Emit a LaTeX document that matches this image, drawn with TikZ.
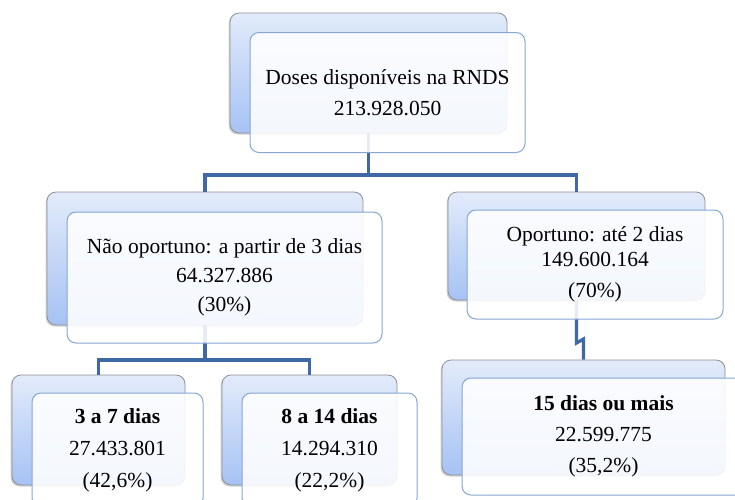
\documentclass[tikz,border=0pt]{standalone}
\usepackage{fontspec}
\setmainfont{Liberation Serif}
\usetikzlibrary{shadows}

\definecolor{cardtop}{HTML}{E2EBFA}
\definecolor{cardbottom}{HTML}{A6C2F4}
\definecolor{cardedge}{HTML}{8C8F96}
\definecolor{frontedge}{HTML}{86A6D6}
\definecolor{linkblue}{HTML}{3E68A6}

\tikzset{
  backcard/.style={draw=cardedge, rounded corners=9pt, top color=cardtop,
    bottom color=cardbottom, line width=0.8pt,
    drop shadow={shadow xshift=-1.5pt, shadow yshift=-1.5pt, opacity=0.35},
    inner sep=0pt},
  frontcard/.style={draw=frontedge, rounded corners=9pt, fill=white,
    fill opacity=0.88, text opacity=1, line width=1pt, align=center,
    inner sep=0pt, font=\fontsize{21.5}{29}\selectfont},
  link/.style={draw=linkblue, line width=3.2pt}
}

\begin{document}
\begin{tikzpicture}[x=1pt,y=-1pt]
  \useasboundingbox (0,0) rectangle (735,499);

  % back cards
  \node[backcard, minimum width=277pt, minimum height=120pt] (rootback) at (368.5,73) {};
  \node[backcard, minimum width=316pt, minimum height=133pt] (noback) at (205,258.5) {};
  \node[backcard, minimum width=257pt, minimum height=108pt] (okback) at (576.5,246) {};
  \node[backcard, minimum width=173pt, minimum height=110pt] (sevenback) at (98.5,430) {};
  \node[backcard, minimum width=175pt, minimum height=110pt] (fourteenback) at (309.5,430) {};
  \node[backcard, minimum width=283pt, minimum height=115pt] (fifteenback) at (583.5,417.5) {};

  % connectors
  \coordinate (busroot) at (0,175);
  \coordinate (busno) at (0,360);
  \coordinate (busok) at (0,343);
  \draw[link] (rootback.south) -- (rootback.south |- busroot) -| (noback.north);
  \draw[link] (rootback.south |- busroot) -| (okback.north);
  \draw[link] (noback.south) -- (noback.south |- busno) -| (sevenback.north);
  \draw[link] (noback.south |- busno) -| (fourteenback.north);
  \draw[link] (okback.south) -- (okback.south |- busok) -- ([yshift=4pt]fifteenback.north |- busok) -- (fifteenback.north);

  % front cards
  \node[frontcard, minimum width=275pt, minimum height=120pt] (root) at (387.5,92.5)
    {Doses disponíveis na RNDS\\[2pt] 213.928.050};
  \node[frontcard, minimum width=315pt, minimum height=131pt] (notimely) at (224.5,277.5)
    {\raisebox{6pt}{\parbox{300pt}{\centering Não oportuno: a partir de 3 dias\\ 64.327.886\\ (30\%)}}};
  \node[frontcard, minimum width=256pt, minimum height=109pt] (timely) at (595,264.5)
    {Oportuno: até 2 dias\\[-4pt] 149.600.164\\[2pt] (70\%)};
  \node[frontcard, minimum width=171pt, minimum height=114pt] (seven) at (117.5,450)
    {\textbf{3 a 7 dias}\\[3pt] 27.433.801\\[3pt] (42,6\%)};
  \node[frontcard, minimum width=175pt, minimum height=114pt] (fourteen) at (329.5,450)
    {\textbf{8 a 14 dias}\\[3pt] 14.294.310\\[3pt] (22,2\%)};
  \node[frontcard, minimum width=283pt, minimum height=117pt] (fifteen) at (603.5,436.5)
    {\raisebox{3pt}{\parbox{270pt}{\centering\textbf{15 dias ou mais}\\[2pt] 22.599.775\\[2pt] (35,2\%)}}};
\end{tikzpicture}
\end{document}
